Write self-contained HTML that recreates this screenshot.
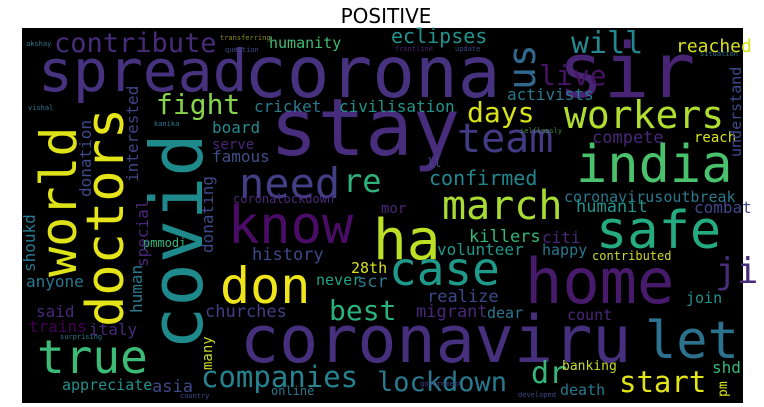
<!DOCTYPE html>
<html><head><meta charset="utf-8"><style>
html,body{margin:0;padding:0;background:#fff;width:764px;height:407px;overflow:hidden}
svg text{font-family:"DejaVu Sans Mono","Liberation Mono",monospace}
</style></head><body>
<svg width="764" height="407" viewBox="0 0 764 407">
<text x="386" y="23" text-anchor="middle" font-size="20" fill="#000" style="font-family:'DejaVu Sans','Liberation Sans',sans-serif">POSITIVE</text>
<rect x="22" y="28" width="721" height="375" fill="#000"/>
<g>
<text x="244" y="97" font-size="71" fill="#46327e">corona</text>
<text x="38" y="91" font-size="58" fill="#46327e">spread</text>
<text x="558" y="97" font-size="76" fill="#482475">sir</text>
<text x="270" y="155" font-size="79" fill="#472d7b">stay</text>
<text x="228" y="243" font-size="52" fill="#4a0c66">know</text>
<text x="373" y="259" font-size="56" fill="#bddf26">ha</text>
<text x="220" y="303" font-size="50" fill="#f0e51b">don</text>
<text x="525" y="303" font-size="62" fill="#481a6c">home</text>
<text x="596" y="248" font-size="52" fill="#25ab82">safe</text>
<text x="576" y="182" font-size="52" fill="#4ac16d">india</text>
<text x="564" y="128" font-size="38" fill="#b0dd2f">workers</text>
<text x="457" y="152" font-size="40" fill="#443a83">team</text>
<text x="442" y="219" font-size="40" fill="#a8db34">march</text>
<text x="239" y="198" font-size="42" fill="#433e85">need</text>
<text x="343" y="192" font-size="32" fill="#2db27d">re</text>
<text x="240" y="362" font-size="65" fill="#46307e">coronaviru</text>
<text x="645" y="358" font-size="52" fill="#2c728e">let</text>
<text x="389" y="285" font-size="46" fill="#1f9a8a">case</text>
<text x="715" y="283" font-size="36" fill="#472c7a">ji</text>
<text x="37" y="373" font-size="46" fill="#3bbb75">true</text>
<text x="201" y="387" font-size="29" fill="#26828e">companies</text>
<text x="377" y="391" font-size="27" fill="#2a788e">lockdown</text>
<text x="531" y="383" font-size="30" fill="#35b779">dr</text>
<text x="619" y="392" font-size="29" fill="#e2e418">start</text>
<text x="560" y="395" font-size="15" fill="#2a788e">death</text>
<text x="712" y="373" font-size="16" fill="#35b779">shd</text>
<text x="562" y="370" font-size="13" fill="#c8d92a">banking</text>
<text x="686" y="303" font-size="15" fill="#21918c">join</text>
<text x="567" y="320" font-size="15" fill="#482878">count</text>
<text x="487" y="318" font-size="15" fill="#2a788e">dear</text>
<text x="416" y="317" font-size="17" fill="#482878">migrant</text>
<text x="427" y="302" font-size="17" fill="#3e4989">realize</text>
<text x="469" y="242" font-size="17" fill="#35b779">killers</text>
<text x="437" y="255" font-size="16" fill="#1f968b">volunteer</text>
<text x="542" y="243" font-size="16" fill="#482878">citi</text>
<text x="542" y="255" font-size="15" fill="#2a788e">happy</text>
<text x="592" y="260" font-size="12" fill="#d0d92a">contributed</text>
<text x="329" y="320" font-size="28" fill="#2ab07f">best</text>
<text x="205" y="317" font-size="17" fill="#433e85">churches</text>
<text x="252" y="260" font-size="17" fill="#3e4989">history</text>
<text x="316" y="285" font-size="15" fill="#20a386">never</text>
<text x="357" y="287" font-size="17" fill="#2a788e">scr</text>
<text x="351" y="273" font-size="15" fill="#d8e219">28th</text>
<text x="233" y="203" font-size="12" fill="#482878">coronalockdown</text>
<text x="381" y="213" font-size="14" fill="#482878">mor</text>
<text x="429" y="185" font-size="20" fill="#24868e">confirmed</text>
<text x="564" y="202" font-size="15" fill="#2a788e">coronavirusoutbreak</text>
<text x="576" y="212" font-size="17" fill="#21918c">humanit</text>
<text x="694" y="213" font-size="16" fill="#3e4989">combat</text>
<text x="592" y="143" font-size="17" fill="#482878">compete</text>
<text x="694" y="142" font-size="14" fill="#d8e219">reach</text>
<text x="507" y="100" font-size="16" fill="#2a788e">activists</text>
<text x="467" y="122" font-size="28" fill="#d8e219">days</text>
<text x="676" y="52" font-size="18" fill="#d8e219">reached</text>
<text x="571" y="53" font-size="30" fill="#24878e">will</text>
<text x="539" y="85" font-size="28" fill="#471365">live</text>
<text x="391" y="43" font-size="20" fill="#21918c">eclipses</text>
<text x="54" y="52" font-size="27" fill="#472c7a">contribute</text>
<text x="269" y="48" font-size="15" fill="#3fbc73">humanity</text>
<text x="156" y="114" font-size="28" fill="#86d549">fight</text>
<text x="254" y="112" font-size="16" fill="#2a788e">cricket</text>
<text x="339" y="112" font-size="16" fill="#1f968b">civilisation</text>
<text x="212" y="133" font-size="16" fill="#238a8d">board</text>
<text x="212" y="149" font-size="14" fill="#482677">serve</text>
<text x="212" y="162" font-size="16" fill="#3d4e8a">famous</text>
<text x="26" y="287" font-size="16" fill="#2a788e">anyone</text>
<text x="36" y="317" font-size="16" fill="#482878">said</text>
<text x="29" y="332" font-size="16" fill="#440154">trains</text>
<text x="89" y="335" font-size="16" fill="#482878">italy</text>
<text x="62" y="390" font-size="15" fill="#21918c">appreciate</text>
<text x="152" y="392" font-size="17" fill="#3e4989">asia</text>
<text x="271" y="395" font-size="12" fill="#2a788e">online</text>
<text x="427" y="167" font-size="12" fill="#3e4989">ll</text>
<text x="143" y="247" font-size="12" fill="#35b779">pmmodi</text>
<text transform="translate(202,350) rotate(-90)" font-size="72" fill="#1f8a8c">covid</text>
<text transform="translate(123,327) rotate(-90)" font-size="52" fill="#e5e419">doctors</text>
<text transform="translate(76,277) rotate(-90)" font-size="50" fill="#dde318">world</text>
<text transform="translate(535,90) rotate(-90)" font-size="38" fill="#31688e">us</text>
<text transform="translate(91,197) rotate(-90)" font-size="16" fill="#3e4989">donation</text>
<text transform="translate(138,182) rotate(-90)" font-size="16" fill="#414487">interested</text>
<text transform="translate(148,267) rotate(-90)" font-size="16" fill="#482878">special</text>
<text transform="translate(213,253) rotate(-90)" font-size="16" fill="#3e4989">donating</text>
<text transform="translate(35,272) rotate(-90)" font-size="16" fill="#2a788e">shoukd</text>
<text transform="translate(142,313) rotate(-90)" font-size="16" fill="#2a788e">human</text>
<text transform="translate(212,370) rotate(-90)" font-size="14" fill="#c8d92a">many</text>
<text transform="translate(741,157) rotate(-90)" font-size="15" fill="#3e4989">understand</text>
<text transform="translate(727,397) rotate(-90)" font-size="13" fill="#d8e219">pm</text>
<text x="220" y="40" font-size="7" fill="#8a8a20">transferring</text>
<text x="225" y="52" font-size="7" fill="#3e4989">question</text>
<text x="26" y="46" font-size="7" fill="#2a788e">akshay</text>
<text x="28" y="110" font-size="7" fill="#2a788e">vishal</text>
<text x="154" y="126" font-size="7" fill="#2a788e">kanika</text>
<text x="395" y="51" font-size="7" fill="#482878">frontline</text>
<text x="455" y="51" font-size="7" fill="#3e4989">update</text>
<text x="700" y="56" font-size="7" fill="#2a788e">situation</text>
<text x="520" y="133" font-size="7" fill="#3e8a3e">selflessly</text>
<text x="420" y="386" font-size="7" fill="#3e4989">government</text>
<text x="518" y="397" font-size="7" fill="#3e4989">developed</text>
<text x="180" y="398" font-size="7" fill="#3e4989">country</text>
<text x="60" y="339" font-size="7" fill="#2a788e">surprising</text>
</g>
</svg>
</body></html>
